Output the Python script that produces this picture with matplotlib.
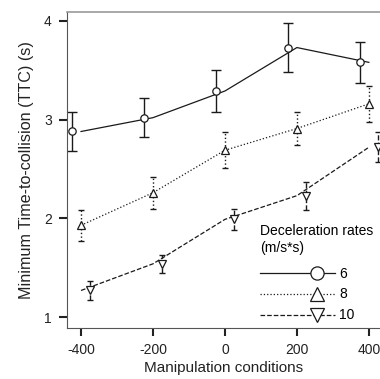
import matplotlib
matplotlib.use("Agg")
import matplotlib.pyplot as plt
from matplotlib.legend_handler import HandlerLine2D
from matplotlib.lines import Line2D

plt.rcParams['font.family'] = ['Liberation Sans', 'DejaVu Sans']
plt.rcParams['axes.unicode_minus'] = False

conditions = [-400, -200, 0, 200, 400]
rates = ['6', '8', '10']
ttc_6 = [2.88, 3.02, 3.29, 3.73, 3.58]
err_6 = [0.20, 0.20, 0.21, 0.25, 0.21]
ttc_8 = [1.93, 2.26, 2.69, 2.91, 3.16]
err_8 = [0.16, 0.16, 0.18, 0.17, 0.18]
ttc_10 = [1.27, 1.54, 1.99, 2.23, 2.72]
err_10 = [0.10, 0.09, 0.11, 0.14, 0.15]

series = [
    (ttc_6, err_6, 'o', '-', -25),
    (ttc_8, err_8, '^', ':', 0),
    (ttc_10, err_10, 'v', '--', 25),
]

fig = plt.figure(figsize=(3.8, 3.79), dpi=100)
ax = fig.add_axes([67/380, 1-328/379, 1-67/380, (328-12)/379])

col = '#1a1a1a'
handles = []
for (vals, errs, mk, ls, off), lab in zip(series, rates):
    ax.plot(conditions, vals, ls=ls, color=col, lw=0.9)
    xs = [c + off for c in conditions]
    ax.errorbar(xs, vals, yerr=errs, fmt='none', ecolor=col, elinewidth=1.0,
                capsize=3.5 if mk == 'o' else 2.5, capthick=1.0)
    ax.plot(xs, vals, ls='none', marker=mk, mfc='white', mec=col, ms=5.3, mew=0.9)
    h, = ax.plot([], [], ls=ls, color=col, lw=0.9, marker=mk, mfc='white', mec=col, ms=9.5, mew=0.9)
    handles.append(h)

for coll, (_, _, _, ls, _) in zip(ax.collections, series):
    coll.set_linestyle(ls)


class H(HandlerLine2D):
    def create_artists(self, legend, orig_handle, xdescent, ydescent, width, height,
                       fontsize, trans):
        y = (height - ydescent) / 2.0
        line = Line2D([-xdescent, -xdescent + width], [y, y])
        self.update_prop(line, orig_handle, legend)
        line.set_marker('None')
        mk = Line2D([-xdescent + 0.77 * width], [y])
        self.update_prop(mk, orig_handle, legend)
        mk.set_linestyle('None')
        line.set_transform(trans)
        mk.set_transform(trans)
        return [line, mk]


ax.set_xlim(-439, 431)
ax.set_ylim(0.89, 4.09)
ax.set_xticks(conditions)
ax.set_yticks([1, 2, 3, 4])
ax.tick_params(axis='both', direction='out', length=6, width=1.5, colors='#222222',
               labelsize=10, pad=5)
ax.spines['right'].set_visible(False)
ax.spines['top'].set_color('#999999')
ax.spines['top'].set_linewidth(1.2)
ax.spines['left'].set_color('#555555')
ax.spines['bottom'].set_color('#555555')
ax.set_xlabel('Manipulation conditions', fontsize=11, color='#222222', labelpad=3)
ax.set_ylabel('Minimum Time-to-collision (TTC) (s)', fontsize=11.6, color='#222222', labelpad=7)

leg = ax.legend(handles, rates, handler_map={h: H() for h in handles},
                title='Deceleration rates\n(m/s*s)', loc='lower right', frameon=False,
                fontsize=10, title_fontsize=10, handlelength=5.4, handletextpad=0.35,
                labelspacing=0.5, borderaxespad=0.0, bbox_to_anchor=(0.995, 0.0))
leg._legend_box.align = 'left'
leg._legend_box.sep = 8
leg.get_title().set_linespacing(1.35)

fig.savefig('out.png', dpi=100)
